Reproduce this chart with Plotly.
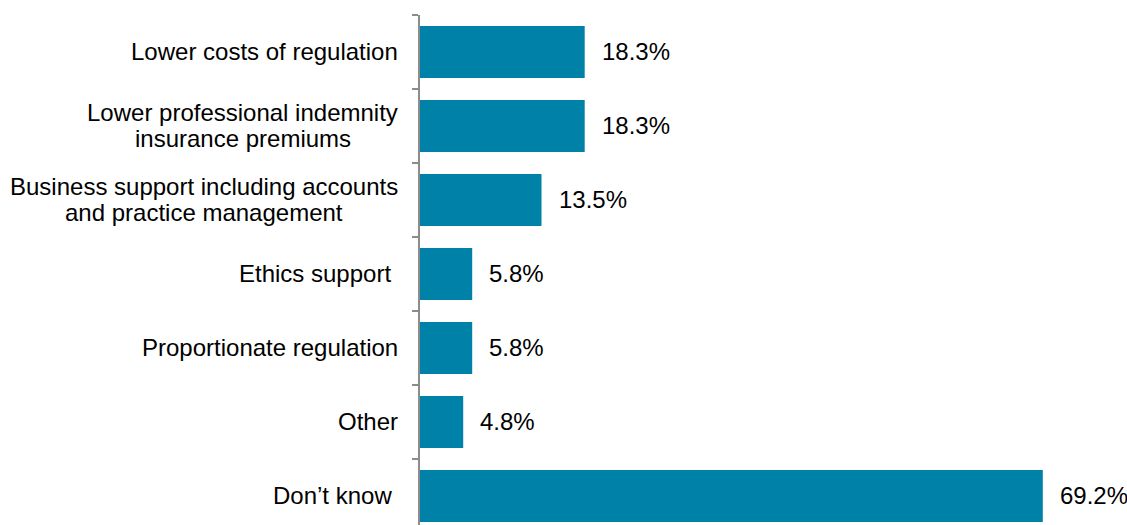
import plotly.graph_objects as go

categories = [
    "Lower costs of regulation",
    "Lower professional indemnity<br>insurance premiums",
    "Business support including accounts<br>and practice management",
    "Ethics support ",
    "Proportionate regulation",
    "Other",
    "Don\u2019t know ",
]
values = [18.3, 18.3, 13.5, 5.8, 5.8, 4.8, 69.2]
value_labels = ["18.3%", "18.3%", "13.5%", "5.8%", "5.8%", "4.8%", "69.2%"]

BAR_COLOR = "#0082A8"
AXIS_COLOR = "#8c8c8c"
FONT = "Liberation Sans, Arial, sans-serif"
FONT_SIZE = 24
LINE_STEP = 26  # pixel spacing between lines of a wrapped label
LABEL_GAP = 20  # gap between category labels and the axis line
BOX_PAD = 2     # annotation border + padding on each side

# Liberation Sans / Arial advance widths (units of 1/1000 em), used to
# centre the lines of a wrapped category label on one another.
_ADV = {
    " ": 278, "a": 556, "b": 556, "c": 500, "d": 556, "e": 556, "f": 278,
    "g": 556, "h": 556, "i": 222, "j": 222, "k": 500, "l": 222, "m": 833,
    "n": 556, "o": 556, "p": 556, "q": 556, "r": 333, "s": 500, "t": 278,
    "u": 556, "v": 500, "w": 722, "x": 500, "y": 500, "z": 500,
    "B": 667, "L": 556,
}


def text_width(s, size=FONT_SIZE):
    return sum(_ADV.get(ch, 556) for ch in s) * size / 1000.0


keys = [f"c{i}" for i in range(len(categories))]

fig = go.Figure(
    go.Bar(
        x=values,
        y=keys,
        orientation="h",
        width=0.7,
        marker=dict(color=BAR_COLOR, line=dict(width=0)),
        hoverinfo="skip",
    )
)

annotations = []
for i, (cat, v, lab) in enumerate(zip(categories, values, value_labels)):
    lines = cat.split("<br>")
    n = len(lines)
    if n == 1:
        annotations.append(dict(
            x=0, xref="paper", y=i, yref="y",
            text=cat, showarrow=False, xanchor="right", yanchor="middle",
            xshift=-LABEL_GAP, yshift=1,
            font=dict(family=FONT, size=FONT_SIZE, color="#000000"),
        ))
    else:
        block_w = max(text_width(l) for l in lines)
        for j, line in enumerate(lines):
            annotations.append(dict(
                x=0, xref="paper", y=i, yref="y",
                text=line, showarrow=False, xanchor="center", yanchor="middle",
                xshift=-LABEL_GAP - BOX_PAD - block_w / 2,
                yshift=((n - 1) / 2 - j) * LINE_STEP + 1,
                font=dict(family=FONT, size=FONT_SIZE, color="#000000"),
            ))
    annotations.append(dict(
        x=v, xref="x", y=i, yref="y",
        text=lab, showarrow=False, xanchor="left", yanchor="middle",
        xshift=15, yshift=1,
        font=dict(family=FONT, size=FONT_SIZE, color="#000000"),
    ))

fig.update_layout(
    width=1127,
    height=525,
    margin=dict(l=420, r=32, t=15, b=0),
    paper_bgcolor="white",
    plot_bgcolor="white",
    showlegend=False,
    bargap=0.3,
    annotations=annotations,
    xaxis=dict(
        range=[0, 75],
        visible=False,
        fixedrange=True,
    ),
    yaxis=dict(
        type="category",
        categoryorder="array",
        categoryarray=keys,
        range=[-0.5 + 510 / 74, -0.5],
        tickson="boundaries",
        ticks="outside",
        ticklen=6,
        tickwidth=1.5,
        tickcolor=AXIS_COLOR,
        showline=True,
        linecolor=AXIS_COLOR,
        linewidth=1.5,
        showgrid=False,
        zeroline=False,
        showticklabels=False,
        fixedrange=True,
    ),
)

fig.write_html("out.html")
